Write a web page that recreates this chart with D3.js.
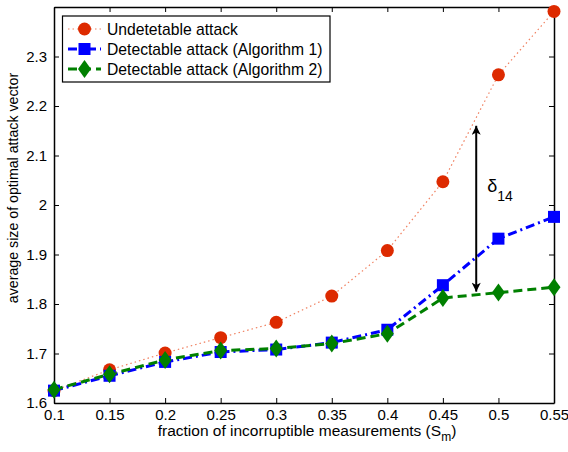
<!DOCTYPE html>
<html><head><meta charset="utf-8">
<script src="https://cdn.jsdelivr.net/npm/d3@7"></script>
<style>body{margin:0;background:#fff;} svg{display:block;font-family:"Liberation Sans",Arial,sans-serif;}</style>
</head><body>
<script>
const xValues = [0.1,0.15,0.2,0.25,0.3,0.35,0.4,0.45,0.5,0.55];
const undetectable = [1.625,1.667,1.701,1.732,1.763,1.816,1.908,2.047,2.263,2.391];
const detectAlg1 = [1.625,1.655,1.683,1.703,1.708,1.722,1.748,1.838,1.932,1.976];
const detectAlg2 = [1.627,1.658,1.687,1.706,1.710,1.720,1.740,1.812,1.823,1.834];
const xTicks = [0.1,0.15,0.2,0.25,0.3,0.35,0.4,0.45,0.5,0.55];
const yTicks = [1.6,1.7,1.8,1.9,2,2.1,2.2,2.3];
const seriesNames = ["Undetetable attack","Detectable attack (Algorithm 1)","Detectable attack (Algorithm 2)"];
const arrowX = 0.48, arrowLow = 1.825, arrowHigh = 2.16;

const W=568,H=452;
const m={l:54,r:14,t:7,b:49};
const svg=d3.select("body").append("svg").attr("width",W).attr("height",H);
const x=d3.scaleLinear().domain([0.1,0.55]).range([m.l,W-m.r]);
const y=d3.scaleLinear().domain([1.6,2.4]).range([H-m.b,m.t]);
const fmt=d=>String(+d.toFixed(2));

// axes
const tl=5;
const gx=svg.append("g").attr("transform",`translate(0,${H-m.b})`)
  .call(d3.axisBottom(x).tickValues(xTicks).tickFormat(fmt).tickSizeInner(-tl).tickSizeOuter(0).tickPadding(6));
const gxt=svg.append("g").attr("transform",`translate(0,${m.t})`)
  .call(d3.axisTop(x).tickValues(xTicks).tickFormat("").tickSizeInner(-tl).tickSizeOuter(0));
const gy=svg.append("g").attr("transform",`translate(${m.l},0)`)
  .call(d3.axisLeft(y).tickValues(yTicks).tickFormat(fmt).tickSizeInner(-tl).tickSizeOuter(0).tickPadding(7));
const gyr=svg.append("g").attr("transform",`translate(${W-m.r},0)`)
  .call(d3.axisRight(y).tickValues(yTicks).tickFormat("").tickSizeInner(-tl).tickSizeOuter(0));
[gx,gxt,gy,gyr].forEach(g=>{
  g.select(".domain").attr("stroke","#000").attr("stroke-width",1.5);
  g.selectAll(".tick line").attr("stroke","#000").attr("stroke-width",1);
  g.selectAll("text").attr("font-size",15).attr("fill","#000").attr("font-family","Liberation Sans, Arial, sans-serif");
});

// axis titles
svg.append("text").attr("x",(m.l+W-m.r)/2+3).attr("y",436).attr("text-anchor","middle")
  .attr("font-size",15.5).html('fraction of incorruptible measurements (S<tspan dy="5" font-size="12">m</tspan><tspan dy="-5">)</tspan>');
svg.append("text").attr("transform",`translate(18,188) rotate(-90)`).attr("text-anchor","middle")
  .attr("font-size",14.2).text("average size of optimal attack vector");

// series
const red="#dd2a00", blue="#0000ff", green="#008000";
const pts=v=>xValues.map((d,i)=>[d,v[i]]);
const line=d3.line().x(d=>x(d[0])).y(d=>y(d[1]));
svg.append("path").datum(pts(undetectable)).attr("d",line).attr("fill","none")
  .attr("stroke","#f08060").attr("stroke-width",1.2).attr("stroke-dasharray","1.5,3");
svg.append("path").datum(pts(detectAlg1)).attr("d",line).attr("fill","none")
  .attr("stroke",blue).attr("stroke-width",3).attr("stroke-dasharray","9,4,2,4");
svg.append("path").datum(pts(detectAlg2)).attr("d",line).attr("fill","none")
  .attr("stroke",green).attr("stroke-width",3).attr("stroke-dasharray","9,5");

function circ(g,cx,cy){g.append("circle").attr("cx",cx).attr("cy",cy).attr("r",6.5).attr("fill",red);}
function sq(g,cx,cy){g.append("rect").attr("x",cx-6).attr("y",cy-6).attr("width",12).attr("height",12).attr("fill",blue);}
function dia(g,cx,cy){g.append("path").attr("d",`M${cx},${cy-9}L${cx+6.5},${cy}L${cx},${cy+9}L${cx-6.5},${cy}Z`).attr("fill",green);}
const mk=svg.append("g");
pts(undetectable).forEach(d=>circ(mk,x(d[0]),y(d[1])));
pts(detectAlg1).forEach(d=>sq(mk,x(d[0]),y(d[1])));
pts(detectAlg2).forEach(d=>dia(mk,x(d[0]),y(d[1])));

// arrow
const defs=svg.append("defs");
defs.append("marker").attr("id","ah").attr("viewBox","0 0 10 10").attr("refX",10).attr("refY",5)
  .attr("markerWidth",5.5).attr("markerHeight",4.5).attr("orient","auto-start-reverse").attr("markerUnits","strokeWidth")
  .append("path").attr("d","M0,0L10,5L0,10L2.5,5Z").attr("fill","#000");
svg.append("line").attr("x1",x(arrowX)).attr("x2",x(arrowX)).attr("y1",y(arrowLow)).attr("y2",y(arrowHigh))
  .attr("stroke","#000").attr("stroke-width",2).attr("marker-start","url(#ah)").attr("marker-end","url(#ah)");
svg.append("text").attr("x",x(arrowX)+11).attr("y",192).attr("font-size",18)
  .html('δ<tspan dy="9" font-size="14">14</tspan>');

// legend
const lg=svg.append("g");
lg.append("rect").attr("x",62.5).attr("y",16).attr("width",267.5).attr("height",66).attr("fill","#fff").attr("stroke","#000").attr("stroke-width",1.2);
const rows=[29,49,69];
const styles=[{c:"#f08060",w:1.2,d:"1.5,3",m:circ},{c:blue,w:3,d:"9,4,2,4",m:sq},{c:green,w:3,d:"9,5",m:dia}];
rows.forEach((ry,i)=>{
  lg.append("line").attr("x1",68).attr("x2",101).attr("y1",ry).attr("y2",ry).attr("stroke",styles[i].c).attr("stroke-width",styles[i].w).attr("stroke-dasharray",styles[i].d);
  styles[i].m(lg,84.5,ry);
  lg.append("text").attr("x",107).attr("y",ry+5.5).attr("font-size",15.7).text(seriesNames[i]);
});
</script>
</body></html>
